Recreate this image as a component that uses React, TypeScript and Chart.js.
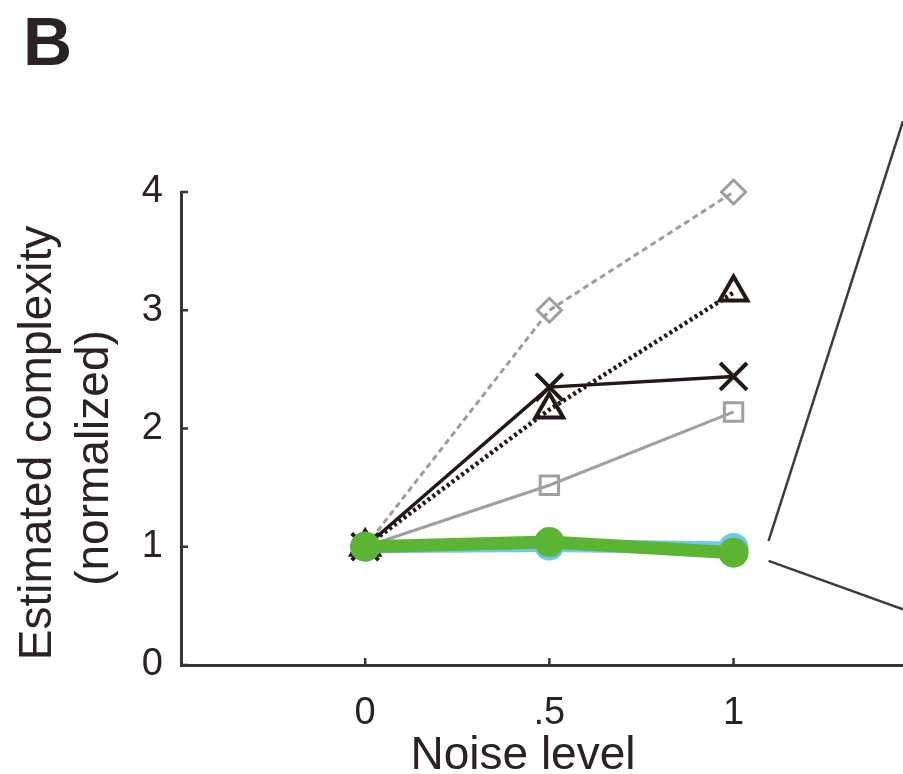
import React, { useEffect, useRef } from "react";
import { Chart, registerables } from "chart.js";

Chart.register(...registerables);

// ---- data ----
const noiseLevels = [0, 0.5, 1];
const xTickValues = [0, 0.5, 1];
const xTickLabels = ["0", ".5", "1"];
const yTickLabels = ["0", "1", "2", "3", "4"];

const greenSeries = [1.0, 1.04, 0.95];
const blueSeries = [1.0, 1.01, 0.99];
const crossSeries = [1.0, 2.35, 2.44];
const triangleSeries = [1.0, 2.16, 3.15];
const squareSeries = [1.0, 1.52, 2.14];
const diamondSeries = [1.0, 3.0, 4.0];

// zoom guide lines (data coordinates)
const guideUpperX = [1.095, 1.46];
const guideUpperY = [1.05, 4.6];
const guideLowerX = [1.095, 1.46];
const guideLowerY = [0.88, 0.47];

const panelLabel = "B";
const xTitle = "Noise level";
const yTitleLines = ["Estimated complexity", "(normalized)"];

const FONT = "'Liberation Sans', Arial, Helvetica, sans-serif";
const TEXT = "#2a2224";
const AXIS = "#3a3234";

const toPts = (xs: number[], ys: number[]) => xs.map((x, i) => ({ x, y: ys[i] }));

const inwardTicks = {
  id: "inwardTicks",
  afterDraw(chart: any) {
    const { ctx, chartArea, scales } = chart;
    ctx.save();
    ctx.strokeStyle = AXIS;
    ctx.lineWidth = 2.5;
    scales.x.ticks.forEach((t: any) => {
      const px = scales.x.getPixelForValue(t.value);
      ctx.beginPath();
      ctx.moveTo(px, chartArea.bottom);
      ctx.lineTo(px, chartArea.bottom - 7);
      ctx.stroke();
    });
    scales.y.ticks.forEach((t: any) => {
      const py = scales.y.getPixelForValue(t.value);
      ctx.beginPath();
      ctx.moveTo(chartArea.left, py);
      ctx.lineTo(chartArea.left + 7, py);
      ctx.stroke();
    });
    ctx.restore();
  },
};

const textPlugin = {
  id: "textPlugin",
  afterDraw(chart: any) {
    const { ctx, chartArea } = chart;
    ctx.save();
    ctx.fillStyle = TEXT;
    // panel label
    ctx.font = `bold 68px ${FONT}`;
    ctx.textAlign = "left";
    ctx.textBaseline = "alphabetic";
    ctx.fillText(panelLabel, 23, 65);
    // x title
    ctx.font = `46px ${FONT}`;
    ctx.textAlign = "center";
    ctx.fillText(xTitle, chartArea.left + 342, chartArea.bottom + 104);
    // y title lines (rotated)
    const ys = [chartArea.top + 251, chartArea.top + 266];
    const xs = [51, 108];
    yTitleLines.forEach((line, i) => {
      ctx.save();
      ctx.translate(xs[i], ys[i]);
      ctx.rotate(-Math.PI / 2);
      ctx.fillText(line, 0, 0);
      ctx.restore();
    });
    ctx.restore();
  },
};

export default function App() {
  const ref = useRef<HTMLCanvasElement | null>(null);
  useEffect(() => {
    document.body.style.margin = "0";
    const canvas = ref.current;
    if (!canvas) return;
    const chart = new Chart(canvas, {
      type: "line",
      data: {
        datasets: [
          {
            label: "green",
            data: toPts(noiseLevels, greenSeries),
            borderColor: "#5cb435",
            backgroundColor: "#5cb435",
            borderWidth: 13,
            pointRadius: 15,
            pointBorderWidth: 0,
            pointBackgroundColor: "#5cb435",
            clip: false,
          },
          {
            label: "blue",
            data: toPts(noiseLevels, blueSeries),
            borderColor: "#72c7ef",
            backgroundColor: "#72c7ef",
            borderWidth: 13,
            pointRadius: 15,
            pointBorderWidth: 0,
            pointBackgroundColor: "#72c7ef",
            clip: false,
          },
          {
            label: "cross",
            data: toPts(noiseLevels, crossSeries),
            borderColor: "#231815",
            borderWidth: 3.5,
            pointStyle: "crossRot",
            pointRadius: 19,
            pointBorderWidth: 4,
            pointBorderColor: "#231815",
            pointBackgroundColor: "rgba(0,0,0,0)",
            clip: false,
          },
          {
            label: "triangle",
            data: toPts(noiseLevels, triangleSeries),
            borderColor: "#231815",
            borderWidth: 4.5,
            borderDash: [3, 3],
            pointStyle: "triangle",
            pointRadius: 16,
            pointBorderWidth: 4,
            pointBorderColor: "#231815",
            pointBackgroundColor: "rgba(0,0,0,0)",
            clip: false,
          },
          {
            label: "square",
            data: toPts(noiseLevels, squareSeries),
            borderColor: "#a0a0a0",
            borderWidth: 3,
            pointStyle: "rect",
            pointRadius: 13,
            pointBorderWidth: 3,
            pointBorderColor: "#a0a0a0",
            pointBackgroundColor: "rgba(0,0,0,0)",
            clip: false,
          },
          {
            label: "diamond",
            data: toPts(noiseLevels, diamondSeries),
            borderColor: "#9d9d9d",
            borderWidth: 3,
            borderDash: [6, 4],
            pointStyle: "rectRot",
            pointRadius: 12,
            pointBorderWidth: 3,
            pointBorderColor: "#9d9d9d",
            pointBackgroundColor: "rgba(0,0,0,0)",
            clip: false,
          },
          {
            label: "guideUpper",
            data: toPts(guideUpperX, guideUpperY),
            borderColor: "#3c3c3c",
            borderWidth: 2.5,
            pointRadius: 0,
            clip: false,
          },
          {
            label: "guideLower",
            data: toPts(guideLowerX, guideLowerY),
            borderColor: "#3c3c3c",
            borderWidth: 2.5,
            pointRadius: 0,
            clip: false,
          },
        ],
      },
      options: {
        animation: false,
        responsive: false,
        layout: { autoPadding: false, padding: { top: 192, left: 0, right: 0, bottom: 0 } },
        plugins: {
          legend: { display: false },
          tooltip: { enabled: false },
          title: { display: false },
        },
        scales: {
          x: {
            type: "linear",
            min: -0.5,
            max: 1.46,
            grid: { display: false },
            border: { display: true, color: AXIS, width: 3 },
            afterBuildTicks: (scale: any) => {
              scale.ticks = xTickValues.map((v) => ({ value: v }));
            },
            afterFit: (scale: any) => {
              scale.height = 109;
              scale.paddingLeft = 0;
              scale.paddingRight = 0;
            },
            ticks: {
              padding: 18,
              color: TEXT,
              font: { family: FONT, size: 38 },
              callback: (_v: any, i: number) => xTickLabels[i],
              maxRotation: 0,
            },
          },
          y: {
            type: "linear",
            min: 0,
            max: 4,
            grid: { display: false },
            border: { display: true, color: AXIS, width: 3 },
            afterFit: (scale: any) => {
              scale.width = 181;
              scale.paddingTop = 0;
              scale.paddingBottom = 0;
            },
            ticks: {
              stepSize: 1,
              padding: 10,
              color: TEXT,
              font: { family: FONT, size: 38 },
              callback: (_v: any, i: number) => yTickLabels[i],
            },
          },
        },
      },
      plugins: [inwardTicks, textPlugin],
    });
    return () => chart.destroy();
  }, []);
  return (
    <div style={{ width: 903, height: 774, background: "#fff" }}>
      <canvas ref={ref} width={903} height={774} style={{ display: "block" }} />
    </div>
  );
}
